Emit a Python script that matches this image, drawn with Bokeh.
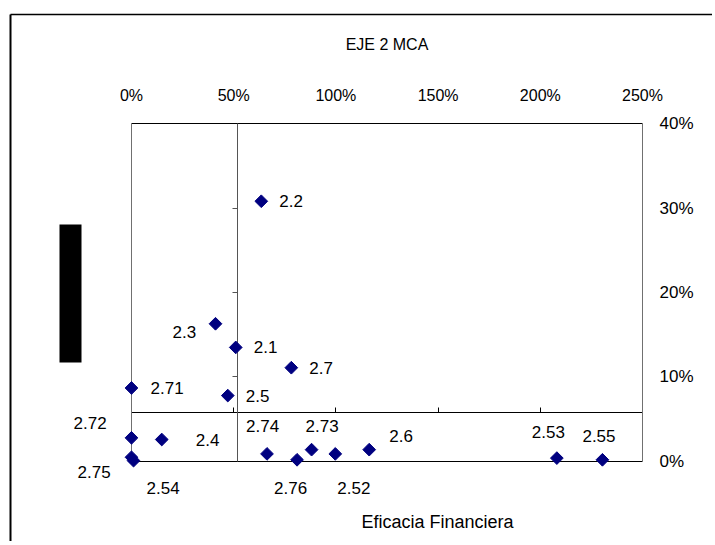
import math
from bokeh.plotting import figure
from bokeh.models import (LinearAxis, FixedTicker, NumeralTickFormatter, BoxAnnotation,
                          Label, ColumnDataSource, Range1d)
from bokeh.core.properties import value
from bokeh.embed import file_html
from bokeh.resources import INLINE

# ---- data ----
codes = ["2.2", "2.3", "2.1", "2.7", "2.71", "2.5", "2.72", "2.4", "2.75", "2.54",
         "2.74", "2.76", "2.73", "2.52", "2.6", "2.53", "2.55"]
eficacia = [0.635, 0.411, 0.510, 0.782, 0.0, 0.471, 0.0, 0.148, 0.0, 0.010,
            0.663, 0.810, 0.881, 0.997, 1.163, 2.081, 2.304]
eje_y = [0.308, 0.163, 0.135, 0.111, 0.087, 0.078, 0.028, 0.026, 0.005, 0.001,
         0.009, 0.002, 0.014, 0.009, 0.014, 0.004, 0.002]

x_ticks = [0, 0.5, 1.0, 1.5, 2.0, 2.5]
y_ticks = [0, 0.1, 0.2, 0.3, 0.4]
x_cross = 0.52     # where the vertical axis crosses
y_cross = 0.058    # where the horizontal axis crosses

title_text = "EJE 2 MCA"
x_title = "Eficacia Financiera"

# label placement (screen px offsets, style only)
label_dx = [18, -43, 18, 18, 19, 18, -58, 34, -54, 13, -21, -23, -6, 2, 20, -25, -20]
label_dy = [0, 8, 0, 0, 0, 0, -15, 0, 15, 27, -28, 28, -24, 34, -14, -26, -24]

FONT = "Liberation Sans"
NAVY = "#000080"
GREY = "#707070"

x0, x1 = x_ticks[0], x_ticks[-1]
y0, y1 = y_ticks[0], y_ticks[-1]

# the whole chart area is one frame; ranges chosen so that 0..250% / 0..40% sit where
# the original plot area sits
XR = (-0.6409, 2.8425)
YR = (-0.0947, 0.5456)
BORDER_X = -0.5944   # outer chart-area border (left)
BORDER_Y = 0.5290    # outer chart-area border (top)

p = figure(x_range=Range1d(*XR), y_range=Range1d(*YR),
           frame_width=712, frame_height=541,
           min_border_left=0, min_border_top=0, min_border_right=0, min_border_bottom=0,
           x_axis_location=None, y_axis_location=None,
           toolbar_location=None, output_backend="svg")
p.outline_line_color = None
p.grid.visible = False
p.background_fill_color = "white"
p.border_fill_color = "white"

fmt = NumeralTickFormatter(format="0%")


def add_axis(side, loc, ticks, line_color, bounds, tick_in=0, tick_out=0,
             font_size=None, standoff=0, width=1):
    ax = LinearAxis(fixed_location=loc, ticker=FixedTicker(ticks=ticks), bounds=bounds,
                    formatter=fmt, axis_line_color=line_color, axis_line_width=width,
                    major_tick_in=tick_in, major_tick_out=tick_out,
                    major_tick_line_color=line_color, minor_tick_line_color=None,
                    major_label_standoff=standoff)
    if font_size is None:
        ax.major_label_text_font_size = "0px"
        ax.major_label_text_color = None
    else:
        ax.major_label_text_font = FONT
        ax.major_label_text_font_size = font_size
        ax.major_label_text_color = "black"
    p.add_layout(ax, side)
    return ax


# outer chart-area border
add_axis("left", BORDER_X, [], "black", (YR[0], BORDER_Y), width=2)
add_axis("below", BORDER_Y, [], "black", (BORDER_X, XR[1]), width=1.5)
# plot-area frame, with the value axes' labels on top and right
add_axis("above", y1, x_ticks, "black", (x0, x1), font_size="16px", standoff=20)
add_axis("right", x1, y_ticks, GREY, (y0, y1), font_size="17px", standoff=17)
add_axis("left", x0, [], GREY, (y0, y1))
add_axis("below", y0, [], "black", (x0, x1))
# crossing axes
add_axis("below", y_cross, x_ticks[1:], "black", (x0, x1), tick_in=5)
add_axis("left", x_cross, y_ticks[1:-1], "#555555", (y0, y1), tick_out=5)

src = ColumnDataSource(dict(x=eficacia, y=eje_y, t=codes, dx=label_dx, dy=label_dy))
p.scatter("x", "y", source=src, marker="square", angle=math.pi / 4, size=9,
          fill_color=NAVY, line_color=NAVY, level="overlay")
p.text("x", "y", text="t", source=src, x_offset="dx", y_offset="dy",
       text_font=value(FONT), text_font_size="17px", text_color="black",
       text_align="left", text_baseline="middle", level="overlay")

# chart title and category-axis title
p.add_layout(Label(x=(x0 + x1) / 2, y=0.4935, text=title_text, text_font=FONT,
                   text_font_size="16px", text_align="center", text_baseline="middle",
                   text_color="black"))
p.add_layout(Label(x=1.497, y=-0.0722, text=x_title, text_font=FONT, text_font_size="18px",
                   text_align="center", text_baseline="middle", text_color="black"))

# redacted block on the left
p.add_layout(BoxAnnotation(left=-0.3523, right=-0.2446, top=0.2805, bottom=0.1172,
                           fill_color="black", fill_alpha=1.0, line_color=None,
                           level="overlay"))

open("out.html", "w").write(file_html(p, INLINE))
